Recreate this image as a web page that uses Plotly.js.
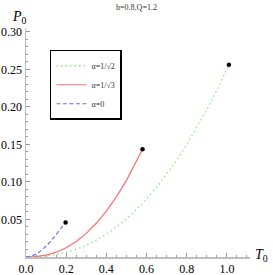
<!DOCTYPE html>
<html>
<head>
<meta charset="utf-8">
<script src="https://cdn.plot.ly/plotly-3.0.1.min.js"></script>
<style>html,body{margin:0;padding:0;background:#fff;}#chart{width:273px;height:275px;}</style>
</head>
<body>
<div id="chart"></div>
<script>
// alpha = 1/sqrt(2)
var tGreen = [0, 0.05, 0.1, 0.15, 0.2, 0.25, 0.3, 0.35, 0.4, 0.45, 0.5, 0.55, 0.6, 0.65, 0.7, 0.75, 0.8, 0.85, 0.9, 0.95, 1.01];
var pGreen = [0, 0.0003, 0.0013, 0.0032, 0.0062, 0.0103, 0.0157, 0.0224, 0.0304, 0.0399, 0.0508, 0.0633, 0.0773, 0.0929, 0.1102, 0.1291, 0.1498, 0.1722, 0.1964, 0.2224, 0.256];
// alpha = 1/sqrt(3)
var tRed = [0, 0.05, 0.1, 0.15, 0.2, 0.25, 0.3, 0.35, 0.4, 0.45, 0.5, 0.55, 0.58];
var pRed = [0, 0.0005, 0.0025, 0.0064, 0.0124, 0.0207, 0.0315, 0.0449, 0.0611, 0.0801, 0.1021, 0.1271, 0.1436];
// alpha = 0
var tBlue = [0, 0.025, 0.05, 0.075, 0.1, 0.125, 0.15, 0.175, 0.197];
var pBlue = [0, 0.0012, 0.0038, 0.0085, 0.0145, 0.0215, 0.030, 0.038, 0.046];
// critical points
var tCrit = [0.197, 0.58, 1.01];
var pCrit = [0.046, 0.1436, 0.256];

var xTicks = [0, 0.2, 0.4, 0.6, 0.8, 1.0];
var xTickText = ["0.0", "0.2", "0.4", "0.6", "0.8", "1.0"];
var yTicks = [0.05, 0.10, 0.15, 0.20, 0.25, 0.30];
var yTickText = ["0.05", "0.10", "0.15", "0.20", "0.25", "0.30"];

var serif = "Liberation Serif, DejaVu Serif, serif";

var traces = [
  {x: tGreen, y: pGreen, mode: "lines", name: "α=1/√2",
   line: {color: "rgb(130,240,130)", width: 1.3, dash: "1.5px,3px"}},
  {x: tRed, y: pRed, mode: "lines", name: "α=1/√3",
   line: {color: "rgb(255,110,110)", width: 1.2}},
  {x: tBlue, y: pBlue, mode: "lines", name: "α=0",
   line: {color: "rgb(110,110,255)", width: 1.2, dash: "4px,2.5px"}},
  {x: tCrit, y: pCrit, mode: "markers", showlegend: false,
   marker: {color: "black", size: 4.5}}
];

var axisCommon = {
  showgrid: false, zeroline: false, showline: true,
  linecolor: "rgb(190,190,190)", linewidth: 1.5,
  ticks: "inside", ticklen: 4, tickwidth: 1, tickcolor: "rgb(150,150,150)",
  tickfont: {family: serif, size: 12, color: "black"},
  tickmode: "array", fixedrange: true
};

var layout = {
  width: 273, height: 275,
  margin: {l: 26, r: 23, t: 28, b: 18},
  paper_bgcolor: "white", plot_bgcolor: "white",
  title: {text: "b=0.8,Q=1.2", font: {family: serif, size: 8, color: "#333"}, x: 0.5, xanchor: "center", y: 0.985, yanchor: "top"},
  xaxis: Object.assign({}, axisCommon, {
    range: [0, 1.115], tickvals: xTicks, ticktext: xTickText,
    minor: {dtick: 0.05, ticks: "inside", ticklen: 2, tickcolor: "rgb(150,150,150)", showgrid: false}
  }),
  yaxis: Object.assign({}, axisCommon, {
    range: [0, 0.305], tickvals: yTicks, ticktext: yTickText,
    minor: {dtick: 0.01, ticks: "inside", ticklen: 2, tickcolor: "rgb(150,150,150)", showgrid: false}
  }),
  showlegend: true,
  legend: {
    x: 0.107, y: 0.905, xanchor: "left", yanchor: "top",
    bordercolor: "black", borderwidth: 1.5, bgcolor: "white",
    font: {family: serif, size: 8, color: "#333"},
    itemwidth: 30, tracegroupgap: 3
  },
  annotations: [
    {text: "<i>P</i><sub>0</sub>", xref: "paper", yref: "paper", x: 0, y: 1, xanchor: "right", yanchor: "bottom",
     xshift: 3, yshift: 0, showarrow: false, font: {family: serif, size: 14, color: "black"}},
    {text: "<i>T</i><sub>0</sub>", xref: "paper", yref: "paper", x: 1, y: 0, xanchor: "left", yanchor: "middle",
     xshift: 3, yshift: 2, showarrow: false, font: {family: serif, size: 14, color: "black"}}
  ]
};

Plotly.newPlot("chart", traces, layout, {displayModeBar: false, staticPlot: true});
</script>
</body>
</html>
